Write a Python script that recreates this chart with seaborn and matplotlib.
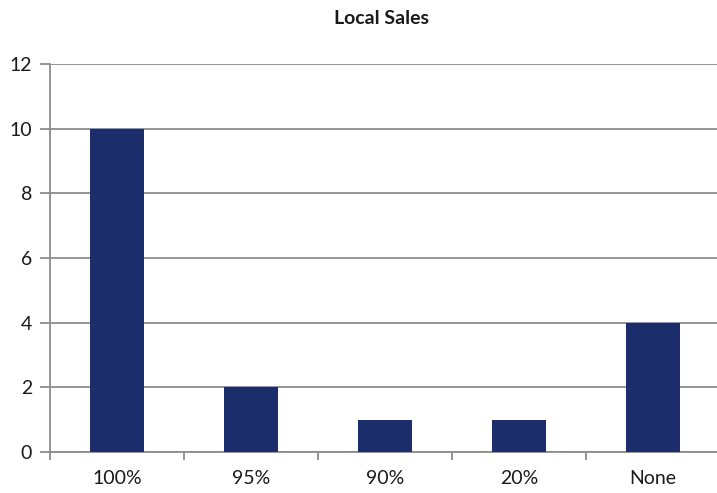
import matplotlib
matplotlib.use("Agg")
import matplotlib.pyplot as plt
import seaborn as sns
import pandas as pd
import numpy as np

categories = ["100%", "95%", "90%", "20%", "None"]
values = [10, 2, 1, 1, 4]
yticks = [0, 2, 4, 6, 8, 10, 12]

sns.set_theme(style="white")
plt.rcParams['font.family'] = ['Lato', 'DejaVu Sans']

df = pd.DataFrame({"cat": categories, "val": values})

fig = plt.figure(figsize=(7.17, 4.93), dpi=100)
ax = fig.add_axes([50/717, 41/493, 670/717, 388/493])
sns.barplot(data=df, x="cat", y="val", color="#1B2E6B", saturation=1, width=0.4, ax=ax, zorder=3)
for p in ax.patches:
    p.set_edgecolor("none")

grid_c = "#8C8C8C"
ax.set_ylim(0, 12)
ax.set_xlim(-0.5, len(categories) - 0.5)
ax.set_yticks(yticks)
ax.set_yticklabels([str(t) for t in yticks], fontsize=14, color="#1a1a1a")
ax.yaxis.grid(True, color=grid_c, linewidth=1.3, zorder=0)
ax.set_axisbelow(True)
ax.tick_params(axis="y", length=7, width=1.3, color=grid_c, pad=6, left=True)
ax.tick_params(axis="x", which="major", length=0, pad=13, labelsize=14, labelcolor="#1a1a1a")
ax.set_xticks(np.arange(-0.5, len(categories)), minor=True)
ax.tick_params(axis="x", which="minor", length=6, width=1.3, color=grid_c, bottom=True)
for s in ["top", "right"]:
    ax.spines[s].set_visible(False)
for s in ["left", "bottom"]:
    ax.spines[s].set_color(grid_c)
    ax.spines[s].set_linewidth(1.3)
ax.set_xlabel("")
ax.set_ylabel("")
fig.text(381/717, 1 - 18/493, "Local Sales", ha="center", va="center", fontsize=14, fontweight="bold", color="#1a1a1a")

fig.savefig("out.png", dpi=100)
